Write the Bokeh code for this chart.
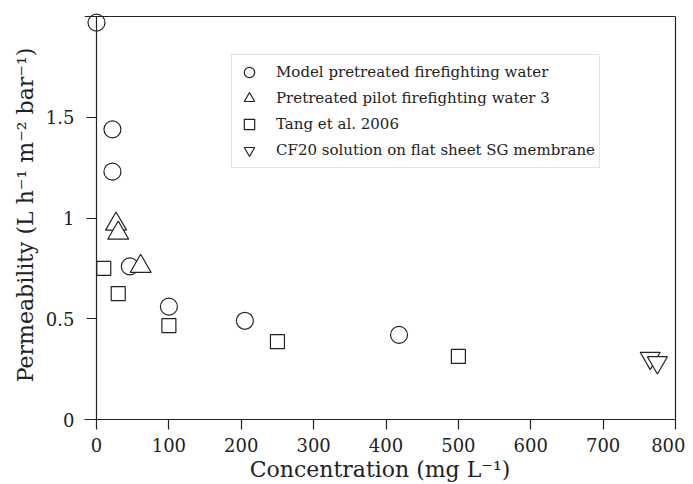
from bokeh.plotting import figure
from bokeh.models import FixedTicker, Range1d, Legend, LegendItem, LinearAxis
from bokeh.embed import file_html
from bokeh.resources import INLINE

# Data
model_x = [0, 22, 22, 46, 100, 205, 418]
model_y = [1.97, 1.44, 1.23, 0.76, 0.56, 0.49, 0.42]
pilot_x = [27, 30, 61]
pilot_y = [0.97, 0.925, 0.76]
tang_x = [10, 30, 100, 250, 500]
tang_y = [0.75, 0.625, 0.466, 0.387, 0.313]
cf20_x = [765, 775]
cf20_y = [0.305, 0.283]

x_ticks = [0, 100, 200, 300, 400, 500, 600, 700, 800]
y_ticks = [0, 0.5, 1, 1.5]
y_tick_labels = ["0", "0.5", "1", "1.5"]
x_max, y_max = 800, 2.0

FONT = "DejaVu Serif"
INK = "#222222"

# frame extends a little left/up of the axes so the corner marker is not clipped
p = figure(width=685, height=484, output_backend="svg", toolbar_location=None,
           x_range=Range1d(-16.6, x_max), y_range=Range1d(0, 2.03),
           min_border_left=84, min_border_right=10, min_border_top=10, min_border_bottom=65)

p.xgrid.visible = False
p.ygrid.visible = False
p.outline_line_color = None
p.background_fill_color = "white"
p.border_fill_color = "white"


def style(ax):
    ax.axis_line_color = INK
    ax.axis_line_width = 1.2
    ax.major_tick_line_color = INK
    ax.major_tick_line_width = 1.2
    ax.major_tick_in = 0
    ax.major_tick_out = 10
    ax.minor_tick_line_color = None
    ax.major_label_text_font = FONT
    ax.major_label_text_font_size = "18px"
    ax.major_label_text_color = INK
    ax.axis_label_text_font = FONT
    ax.axis_label_text_font_size = "22px"
    ax.axis_label_text_font_style = "normal"
    ax.axis_label_text_color = INK


def line_only(ax):
    ax.major_label_text_color = None
    ax.major_label_standoff = 0


# bottom axis (labels + line)
xa = p.xaxis[0]
style(xa)
xa.ticker = FixedTicker(ticks=x_ticks)
xa.axis_label = "Concentration (mg L\u207b\u00b9)"
xa.major_label_standoff = 8
xa.axis_label_standoff = 2

# left axis at frame edge: carries tick labels and title only
ya = p.yaxis[0]
style(ya)
ya.ticker = FixedTicker(ticks=y_ticks)
ya.major_label_overrides = {t: l for t, l in zip(y_ticks, y_tick_labels)}
ya.axis_line_color = None
ya.major_tick_line_color = None
ya.major_tick_out = 0
ya.major_label_standoff = 10
ya.axis_label = "Permeability (L h\u207b\u00b9 m\u207b\u00b2 bar\u207b\u00b9)"
ya.axis_label_standoff = 5

# visible y axis line with ticks at x = 0
yline = LinearAxis(ticker=FixedTicker(ticks=y_ticks), fixed_location=0, bounds=(0, y_max))
style(yline)
line_only(yline)
p.add_layout(yline, "left")

# top and right frame lines
top = LinearAxis(ticker=FixedTicker(ticks=[]), fixed_location=y_max)
right = LinearAxis(ticker=FixedTicker(ticks=[]), bounds=(0, y_max))
for ax in (top, right):
    style(ax)
    line_only(ax)
    ax.major_tick_out = 0
p.add_layout(top, "above")
p.add_layout(right, "right")

kw = dict(line_color=INK, line_width=1.2, fill_color="white")
r1 = p.scatter(model_x, model_y, marker="circle", size=17, **kw)
r2 = p.scatter(pilot_x, pilot_y, marker="triangle", size=21, **kw)
r3 = p.scatter(tang_x, tang_y, marker="square", size=14, **kw)
r4 = p.scatter(cf20_x, cf20_y, marker="inverted_triangle", size=20, **kw)

legend = Legend(items=[
    LegendItem(label="Model pretreated firefighting water", renderers=[r1]),
    LegendItem(label="Pretreated pilot firefighting water 3", renderers=[r2]),
    LegendItem(label="Tang et al. 2006", renderers=[r3]),
    LegendItem(label="CF20 solution on flat sheet SG membrane", renderers=[r4]),
], location=(147, 251))
legend.label_text_font = FONT
legend.label_text_font_size = "15px"
legend.label_text_color = INK
legend.border_line_color = "#c8c8c8"
legend.border_line_width = 1.5
legend.background_fill_alpha = 1
legend.padding = 4
legend.spacing = 0
legend.margin = 0
legend.label_height = 26
legend.glyph_height = 26
legend.glyph_width = 26
legend.label_standoff = 14
p.add_layout(legend, "center")

open("out.html", "w").write(file_html(p, INLINE))
